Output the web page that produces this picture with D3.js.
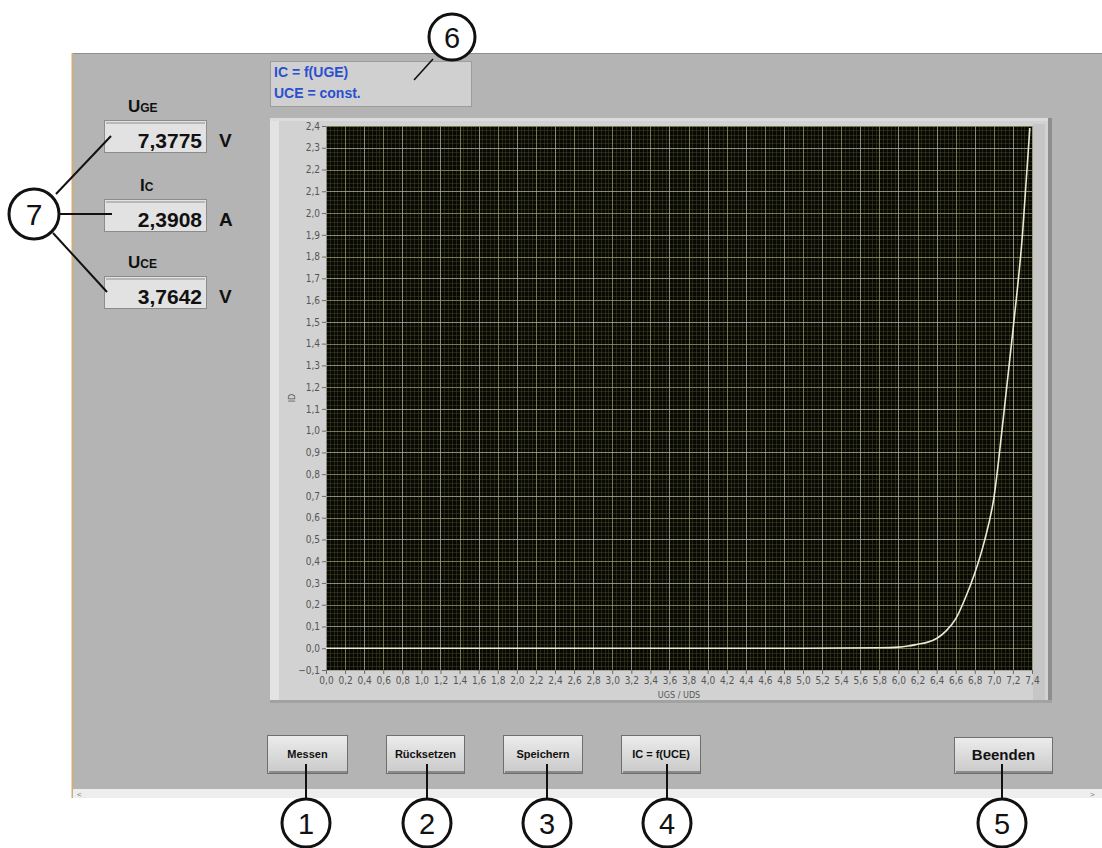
<!DOCTYPE html>
<html>
<head>
<meta charset="utf-8">
<script src="https://cdn.jsdelivr.net/npm/d3@7"></script>
<style>
  html, body { margin: 0; padding: 0; background: #ffffff; }
  svg { display: block; font-family: "Liberation Sans", Arial, sans-serif; }
</style>
</head>
<body>
<script>
// Transfer characteristic IC = f(UGE) at constant UCE
const uge = [0.0, 1.0, 2.0, 3.0, 4.0, 5.0, 5.8, 6.0, 6.1, 6.2, 6.3, 6.4, 6.5, 6.6, 6.7, 6.8, 6.9, 7.0, 7.1, 7.2, 7.3, 7.3775];
const ic  = [0.0, 0.0, 0.0, 0.0, 0.0, 0.0, 0.002, 0.005, 0.01, 0.018, 0.027, 0.045, 0.08, 0.135, 0.23, 0.345, 0.49, 0.69, 1.06, 1.46, 1.9, 2.3908];

const xTicks = [0.0, 0.2, 0.4, 0.6, 0.8, 1.0, 1.2, 1.4, 1.6, 1.8, 2.0, 2.2, 2.4, 2.6, 2.8, 3.0, 3.2, 3.4, 3.6, 3.8,
                4.0, 4.2, 4.4, 4.6, 4.8, 5.0, 5.2, 5.4, 5.6, 5.8, 6.0, 6.2, 6.4, 6.6, 6.8, 7.0, 7.2, 7.4];
const yTicks = [-0.1, 0.0, 0.1, 0.2, 0.3, 0.4, 0.5, 0.6, 0.7, 0.8, 0.9, 1.0, 1.1, 1.2, 1.3, 1.4, 1.5, 1.6, 1.7, 1.8,
                1.9, 2.0, 2.1, 2.2, 2.3, 2.4];

// Numeric indicators
const indicatorNames = [["U", "GE"], ["I", "C"], ["U", "CE"]];
const indicatorValues = [7.3775, 2.3908, 3.7642];
const indicatorUnits = ["V", "A", "V"];

// Buttons and their callout numbers
const buttonLabels = ["Messen", "Rücksetzen", "Speichern", "IC = f(UCE)", "Beenden"];
const buttonNumbers = ["1", "2", "3", "4", "5"];

const W = 1102, H = 848;
const svg = d3.select("body").append("svg").attr("width", W).attr("height", H);

const defs = svg.append("defs");
const bg = defs.append("linearGradient").attr("id", "btnGrad").attr("x1", 0).attr("y1", 0).attr("x2", 0).attr("y2", 1);
bg.append("stop").attr("offset", "0%").attr("stop-color", "#ececec");
bg.append("stop").attr("offset", "100%").attr("stop-color", "#c9c9c9");

// ---- front panel window ----
svg.append("rect").attr("x", 72).attr("y", 53).attr("width", W - 72).attr("height", 736).attr("fill", "#b4b4b4");
svg.append("line").attr("x1", 72).attr("x2", W).attr("y1", 53.5).attr("y2", 53.5).attr("stroke", "#8e8e8e");
svg.append("line").attr("x1", 72.5).attr("x2", 72.5).attr("y1", 53).attr("y2", 798).attr("stroke", "#cfae7c").attr("stroke-width", 2);
// horizontal scrollbar strip
svg.append("rect").attr("x", 73).attr("y", 789).attr("width", W - 73).attr("height", 9).attr("fill", "#eeeeee");
svg.append("text").attr("x", 77).attr("y", 797).attr("font-size", 8).attr("fill", "#777").text("<");
svg.append("text").attr("x", 1090).attr("y", 797).attr("font-size", 8).attr("fill", "#777").text(">");

// ---- graph frame ----
svg.append("rect").attr("x", 270).attr("y", 118).attr("width", 782).attr("height", 585).attr("fill", "#d2d2d2");
svg.append("rect").attr("x", 270).attr("y", 118).attr("width", 9).attr("height", 585).attr("fill", "#e3e3e3");
svg.append("rect").attr("x", 270).attr("y", 118).attr("width", 782).attr("height", 3).attr("fill", "#dcdcdc");
svg.append("rect").attr("x", 1048).attr("y", 118).attr("width", 4).attr("height", 585).attr("fill", "#8e8e8e");
svg.append("rect").attr("x", 270).attr("y", 700).attr("width", 782).attr("height", 3).attr("fill", "#a2a2a2");
svg.append("rect").attr("x", 1033).attr("y", 124).attr("width", 12).attr("height", 576).attr("fill", "#c6c6c6");

// ---- scales ----
const x = d3.scaleLinear().domain([0, 7.4]).range([326, 1032]);
const y = d3.scaleLinear().domain([-0.1, 2.4]).range([670, 126]);
const fmt = v => d3.format(".1f")(v).replace(".", ",");

// plot area
svg.append("rect").attr("x", x(0)).attr("y", y(2.4)).attr("width", x(7.4) - x(0)).attr("height", y(-0.1) - y(2.4))
  .attr("fill", "#080804");

const grid = svg.append("g");
// minor grid: five subdivisions per major step
const minorX = d3.range(0, 7.4 + 1e-9, 0.04);
const minorY = d3.range(-0.1, 2.4 + 1e-9, 0.02);
grid.selectAll(".mx").data(minorX).join("line")
  .attr("x1", d => Math.round(x(d)) + 0.5).attr("x2", d => Math.round(x(d)) + 0.5)
  .attr("y1", y(2.4)).attr("y2", y(-0.1))
  .attr("stroke", "#4c4c2a").attr("stroke-opacity", 0.45);
grid.selectAll(".my").data(minorY).join("line")
  .attr("y1", d => Math.round(y(d)) + 0.5).attr("y2", d => Math.round(y(d)) + 0.5)
  .attr("x1", x(0)).attr("x2", x(7.4))
  .attr("stroke", "#4c4c2a").attr("stroke-opacity", 0.45);
// major grid at every tick
grid.selectAll(".Mx").data(xTicks).join("line")
  .attr("x1", d => Math.round(x(d)) + 0.5).attr("x2", d => Math.round(x(d)) + 0.5)
  .attr("y1", y(2.4)).attr("y2", y(-0.1))
  .attr("stroke", (d, i) => i % 2 ? "#9a9a68" : "#b4b4a8").attr("stroke-opacity", 0.7);
grid.selectAll(".My").data(yTicks).join("line")
  .attr("y1", d => Math.round(y(d)) + 0.5).attr("y2", d => Math.round(y(d)) + 0.5)
  .attr("x1", x(0)).attr("x2", x(7.4))
  .attr("stroke", (d, i) => i % 2 ? "#9a9a68" : "#b4b4a8").attr("stroke-opacity", 0.7);

// measured curve
const line = d3.line().x((d, i) => x(uge[i])).y((d, i) => y(ic[i])).curve(d3.curveMonotoneX);
svg.append("path").datum(ic).attr("d", line)
  .attr("fill", "none").attr("stroke", "#ecebd2").attr("stroke-width", 1.6);

// axes
const axisFont = '"Liberation Sans Narrow", "DejaVu Sans Condensed", Arial, sans-serif';
const yAxis = svg.append("g").attr("transform", `translate(${x(0)},0)`)
  .call(d3.axisLeft(y).tickValues(yTicks).tickFormat(fmt).tickSize(4).tickSizeOuter(0).tickPadding(2));
const xAxis = svg.append("g").attr("transform", `translate(0,${y(-0.1)})`)
  .call(d3.axisBottom(x).tickValues(xTicks).tickFormat(fmt).tickSize(4).tickSizeOuter(0).tickPadding(3));
[xAxis, yAxis].forEach(a => {
  a.select(".domain").remove();
  a.selectAll("line").attr("stroke", "#6a6a6a");
  a.selectAll("text").attr("fill", "#555555").attr("font-size", 10).attr("font-family", axisFont);
});

svg.append("text").attr("x", 679).attr("y", 698).attr("text-anchor", "middle")
  .attr("font-size", 9).attr("fill", "#555").attr("font-family", axisFont).text("UGS / UDS");
svg.append("text").attr("transform", "translate(295,398) rotate(-90)").attr("text-anchor", "middle")
  .attr("font-size", 9).attr("fill", "#555").attr("font-family", axisFont).text("ID");

// ---- description box ----
svg.append("rect").attr("x", 270.5).attr("y", 61.5).attr("width", 201).attr("height", 45)
  .attr("fill", "#d0d0d0").attr("stroke", "#9c9c9c");
svg.append("text").attr("x", 274).attr("y", 77).attr("font-size", 14).attr("font-weight", "bold")
  .attr("fill", "#2a4fd0").text("IC = f(UGE)");
svg.append("text").attr("x", 274).attr("y", 98).attr("font-size", 14).attr("font-weight", "bold")
  .attr("fill", "#2a4fd0").text("UCE = const.");

// ---- numeric indicators ----
const indTop = [120, 199, 276];
const ind = svg.append("g");
indicatorValues.forEach((v, i) => {
  const t = indTop[i];
  const lab = ind.append("text").attr("x", i === 1 ? 140 : 128).attr("y", t - 8)
    .attr("font-weight", "bold").attr("fill", "#111");
  lab.append("tspan").attr("font-size", 17).text(indicatorNames[i][0]);
  lab.append("tspan").attr("font-size", 12).text(indicatorNames[i][1]);
  ind.append("rect").attr("x", 104.5).attr("y", t + 0.5).attr("width", 102).attr("height", 32)
    .attr("fill", "#e2e2e2").attr("stroke", "#8c8c8c");
  ind.append("rect").attr("x", 106).attr("y", t + 2).attr("width", 99).attr("height", 2).attr("fill", "#b8b8b8");
  ind.append("text").attr("x", 202).attr("y", t + 28).attr("text-anchor", "end")
    .attr("font-size", 21).attr("font-weight", "bold").attr("fill", "#111")
    .text(d3.format(".4f")(v).replace(".", ","));
  ind.append("text").attr("x", 219).attr("y", t + 27).attr("font-size", 19).attr("font-weight", "bold")
    .attr("fill", "#111").text(indicatorUnits[i]);
});

// ---- buttons ----
const btnBoxes = [[267, 80], [386, 78], [503, 79], [621, 79], [954, 98]];
const btnCentres = [306, 427, 547, 667, 1002];
buttonLabels.forEach((b, i) => {
  const [bx, bw] = btnBoxes[i];
  const big = i === 4;
  const by = big ? 737 : 735, bh = big ? 36 : 38;
  svg.append("rect").attr("x", bx + 0.5).attr("y", by + 0.5).attr("width", bw).attr("height", bh)
    .attr("fill", "url(#btnGrad)").attr("stroke", "#6f6f6f");
  svg.append("rect").attr("x", bx + 2).attr("y", by + bh - 2).attr("width", bw - 2).attr("height", 2).attr("fill", "#8a8a8a");
  svg.append("text").attr("x", bx + bw / 2 + 0.5).attr("y", big ? 760 : 758).attr("text-anchor", "middle")
    .attr("font-size", big ? 15 : 11).attr("font-weight", "bold").attr("fill", "#111").text(b);
});

// ---- callouts ----
const callout = svg.append("g").attr("stroke", "#111").attr("fill", "none");
btnCentres.forEach((cx, i) => {
  callout.append("line").attr("x1", cx).attr("x2", cx).attr("y1", 764).attr("y2", 799).attr("stroke-width", 2);
  callout.append("circle").attr("cx", cx).attr("cy", 823).attr("r", 24).attr("stroke-width", 3).attr("fill", "#fff");
  svg.append("text").attr("x", cx).attr("y", 834).attr("text-anchor", "middle").attr("font-size", 29)
    .attr("fill", "#111").text(buttonNumbers[i]);
});

// callout 6
callout.append("line").attr("x1", 433).attr("y1", 59).attr("x2", 414).attr("y2", 80).attr("stroke-width", 1.6);
callout.append("circle").attr("cx", 452).attr("cy", 37).attr("r", 23).attr("stroke-width", 3).attr("fill", "#fff");
svg.append("text").attr("x", 452).attr("y", 48).attr("text-anchor", "middle").attr("font-size", 29)
  .attr("fill", "#111").text("6");

// callout 7
callout.append("line").attr("x1", 56).attr("y1", 194).attr("x2", 111).attr("y2", 136).attr("stroke-width", 2);
callout.append("line").attr("x1", 60).attr("y1", 214).attr("x2", 112).attr("y2", 214).attr("stroke-width", 2);
callout.append("line").attr("x1", 53).attr("y1", 233).attr("x2", 107).attr("y2", 292).attr("stroke-width", 2);
callout.append("circle").attr("cx", 34).attr("cy", 214).attr("r", 25).attr("stroke-width", 3).attr("fill", "#fff");
svg.append("text").attr("x", 34).attr("y", 225).attr("text-anchor", "middle").attr("font-size", 30)
  .attr("fill", "#111").text("7");
</script>
</body>
</html>
